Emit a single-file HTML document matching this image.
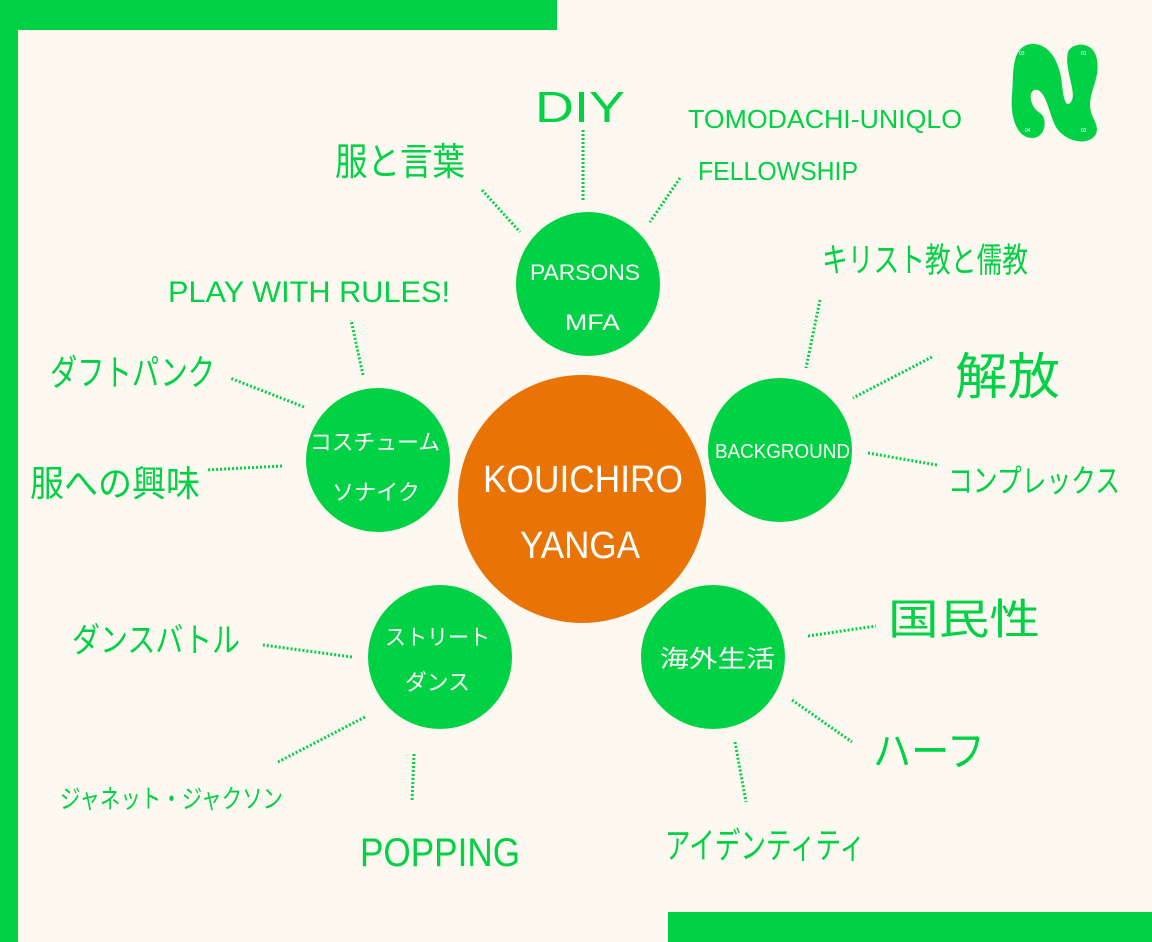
<!DOCTYPE html>
<html><head><meta charset="utf-8"><style>
html,body{margin:0;padding:0;background:#fdf8f0;}
svg{display:block}
text{font-family:"Liberation Sans","Noto Sans CJK JP",sans-serif;}
</style></head><body>
<svg width="1152" height="942" viewBox="0 0 1152 942" xmlns="http://www.w3.org/2000/svg">
<rect width="1152" height="942" fill="#fdf8f0"/>
<rect x="0" y="0" width="557" height="30" fill="#00d145"/>
<rect x="0" y="0" width="18" height="942" fill="#00d145"/>
<rect x="668" y="912" width="484" height="30" fill="#00d145"/>
<path d="M1030 44 C1048 42 1060 60 1062 85 C1064 105 1068 108 1072 100 C1076 90 1064 68 1068 52 C1072 42 1094 40 1097 60 C1100 78 1090 90 1090 105 C1090 118 1100 124 1096 134 C1090 145 1070 144 1058 130 C1050 120 1048 95 1038 90 C1026 88 1030 108 1040 113 C1048 118 1046 138 1032 138 C1016 138 1010 115 1012 95 C1014 75 1010 48 1030 44 Z" fill="#00d145"/>
<g fill="#fff" font-size="5"><text x="1019" y="55">03</text><text x="1081" y="55">01</text><text x="1025" y="132">04</text><text x="1081" y="132">02</text></g>
<g stroke="#00d145" stroke-width="3" stroke-dasharray="2 2" fill="none">
<line x1="583" y1="130" x2="583" y2="200"/>
<line x1="482" y1="190" x2="520" y2="232"/>
<line x1="680" y1="178" x2="650" y2="222"/>
<line x1="820" y1="300" x2="806" y2="368"/>
<line x1="932" y1="357" x2="853" y2="398"/>
<line x1="868" y1="453" x2="937" y2="465"/>
<line x1="808" y1="636" x2="876" y2="626"/>
<line x1="792" y1="700" x2="852" y2="742"/>
<line x1="735" y1="742" x2="746" y2="802"/>
<line x1="414" y1="754" x2="412" y2="802"/>
<line x1="365" y1="717" x2="278" y2="762"/>
<line x1="352" y1="657" x2="263" y2="645"/>
<line x1="282" y1="466" x2="206" y2="470"/>
<line x1="304" y1="407" x2="230" y2="378"/>
<line x1="363" y1="375" x2="351" y2="320"/>
</g>
<circle cx="582" cy="499" r="124" fill="#e97305"/>
<g fill="#00d145">
<circle cx="588" cy="284" r="72"/>
<circle cx="780" cy="450" r="72"/>
<circle cx="713" cy="657" r="72"/>
<circle cx="440" cy="657" r="72"/>
<circle cx="378" cy="460" r="72"/>
</g>
<g fill="#fff" lengthAdjust="spacingAndGlyphs">
<text x="483" y="492" font-size="38" textLength="200" lengthAdjust="spacingAndGlyphs">KOUICHIRO</text>
<text x="520" y="558" font-size="38" textLength="120" lengthAdjust="spacingAndGlyphs">YANGA</text>
<text x="530" y="280" font-size="22" textLength="110" lengthAdjust="spacingAndGlyphs">PARSONS</text>
<text x="565" y="330" font-size="22" textLength="55" lengthAdjust="spacingAndGlyphs">MFA</text>
<text x="715" y="458" font-size="20" textLength="135" lengthAdjust="spacingAndGlyphs">BACKGROUND</text>
<text x="660" y="667" font-size="24" textLength="115" lengthAdjust="spacingAndGlyphs">海外生活</text>
<text x="385" y="645" font-size="22" textLength="105" lengthAdjust="spacingAndGlyphs">ストリート</text>
<text x="405" y="690" font-size="22" textLength="65" lengthAdjust="spacingAndGlyphs">ダンス</text>
<text x="310" y="450" font-size="22" textLength="130" lengthAdjust="spacingAndGlyphs">コスチューム</text>
<text x="332" y="500" font-size="22" textLength="88" lengthAdjust="spacingAndGlyphs">ソナイク</text>
</g>
<g fill="#00d145">
<text x="535" y="122" font-size="44" textLength="90" lengthAdjust="spacingAndGlyphs">DIY</text>
<text x="335" y="175" font-size="38" textLength="130" lengthAdjust="spacingAndGlyphs">服と言葉</text>
<text x="688" y="128" font-size="26" textLength="274" lengthAdjust="spacingAndGlyphs">TOMODACHI-UNIQLO</text>
<text x="698" y="180" font-size="26" textLength="160" lengthAdjust="spacingAndGlyphs">FELLOWSHIP</text>
<text x="822" y="272" font-size="34" textLength="206" lengthAdjust="spacingAndGlyphs">キリスト教と儒教</text>
<text x="955" y="394" font-size="50" textLength="105" lengthAdjust="spacingAndGlyphs">解放</text>
<text x="948" y="492" font-size="32" textLength="172" lengthAdjust="spacingAndGlyphs">コンプレックス</text>
<text x="888" y="634" font-size="42" textLength="152" lengthAdjust="spacingAndGlyphs">国民性</text>
<text x="873" y="766" font-size="42" textLength="112" lengthAdjust="spacingAndGlyphs">ハーフ</text>
<text x="665" y="858" font-size="36" textLength="200" lengthAdjust="spacingAndGlyphs">アイデンティティ</text>
<text x="360" y="866" font-size="40" textLength="160" lengthAdjust="spacingAndGlyphs">POPPING</text>
<text x="60" y="808" font-size="26" textLength="223" lengthAdjust="spacingAndGlyphs">ジャネット・ジャクソン</text>
<text x="72" y="652" font-size="34" textLength="168" lengthAdjust="spacingAndGlyphs">ダンスバトル</text>
<text x="30" y="496" font-size="36" textLength="170" lengthAdjust="spacingAndGlyphs">服への興味</text>
<text x="50" y="385" font-size="36" textLength="165" lengthAdjust="spacingAndGlyphs">ダフトパンク</text>
<text x="168" y="302" font-size="30" textLength="282" lengthAdjust="spacingAndGlyphs">PLAY WITH RULES!</text>
</g>
</svg>
</body></html>
